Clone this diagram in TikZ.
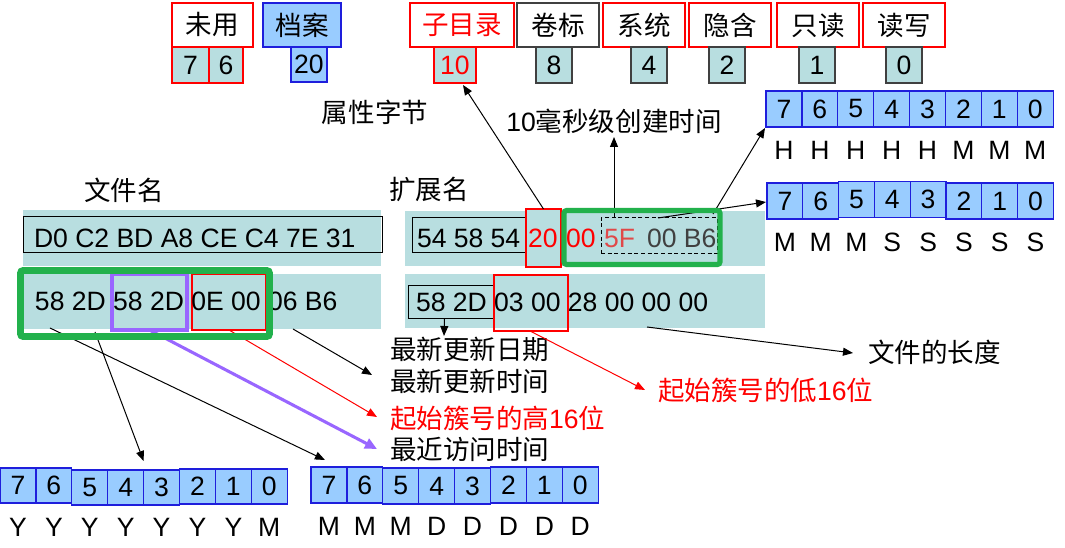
\documentclass[tikz,border=0pt]{standalone}
\usepackage{fontspec}
\setmainfont{Liberation Sans}
\newfontfamily\cjk{Noto Sans CJK SC}
\usetikzlibrary{arrows.meta,calc}
\definecolor{teal1}{RGB}{184,222,224}
\definecolor{blu1}{RGB}{153,204,255}
\definecolor{blu2}{RGB}{30,30,220}
\definecolor{grn}{RGB}{34,177,76}
\definecolor{pur}{RGB}{153,102,255}
\definecolor{red1}{RGB}{255,0,0}
\definecolor{dk}{RGB}{64,64,64}
\definecolor{fivef}{RGB}{224,72,72}
\newcommand\fs{\fontsize{19.9pt}{24pt}\selectfont}
% name, x1, y1, x2, y2, style, text
\newcommand\bx[7]{\node[#6, minimum width={((#4)-(#2))*0.75pt}, minimum height={((#5)-(#3))*0.75pt}] (#1) at ({((#2)+(#4))/2},{((#3)+(#5))/2}) {#7};}
\begin{document}
\begin{tikzpicture}[x=0.75pt,y=-0.75pt,
  every node/.style={font=\fs, inner sep=0pt, outer sep=0pt},
  attr/.style={draw=red1, fill=white, line width=1pt},
  attrk/.style={draw=dk, fill=white, line width=1pt},
  tbox/.style={draw=red1, fill=teal1, line width=1pt},
  tboxk/.style={draw=dk, fill=teal1, line width=1pt},
  bbox/.style={draw=blu2, fill=blu1, line width=1pt},
  cell/.style={draw=blu2, fill=blu1, line width=1pt},
  band/.style={fill=teal1},
  kbox/.style={draw=black, line width=0.75pt},
  rbox/.style={draw=red1, line width=0.9pt},
  gbox/.style={draw=grn, rounded corners=2pt},
  dbox/.style={draw=black, dashed, dash pattern=on 3pt off 2pt, line width=0.75pt},
  arr/.style={-{Triangle[length=7.5pt,width=6pt]}, line width=0.75pt, draw=black},
  rarr/.style={-{Triangle[length=7.5pt,width=6pt]}, line width=0.75pt, draw=red1},
  parr/.style={-{Triangle[length=9pt,width=8pt]}, line width=2.3pt, draw=pur}]
\useasboundingbox (0,0) rectangle (1065,548);
\fill[white] (0,0) rectangle (1065,548);

% ---- attribute byte boxes ----
\bx{un}{172}{3}{253}{47}{attr}{\cjk 未用}
\bx{b7}{172}{47}{209}{83}{tbox}{7}
\bx{b6}{209}{47}{243}{83}{tbox}{6}
\bx{da}{263}{3}{341}{47}{bbox}{\cjk 档案}
\bx{b20}{291}{47}{327}{82}{bbox}{20}
\bx{zml}{410}{3}{514}{47}{attr, text=red1}{\cjk 子目录}
\bx{b10}{434}{47}{476}{83}{tbox, text=red1}{10}
\bx{jb}{517}{3}{599}{47}{attrk}{\cjk 卷标}
\bx{b8}{536}{47}{572}{83}{tboxk}{8}
\bx{xt}{603}{3}{685}{47}{attr}{\cjk 系统}
\bx{b4}{631}{47}{667}{83}{tboxk}{4}
\bx{yh}{689}{3}{771}{47}{attr}{\cjk 隐含}
\bx{b2}{709}{47}{745}{83}{tboxk}{2}
\bx{zd}{777}{3}{859}{47}{attr}{\cjk 只读}
\bx{b1}{799}{47}{835}{83}{tboxk}{1}
\bx{dx}{863}{3}{945}{47}{attr}{\cjk 读写}
\bx{b0}{886}{47}{922}{83}{tboxk}{0}

% ---- labels ----
\node (attrlbl) at (375,112) {\cjk 属性字节};
\node (ms) at (614,121) {10{\cjk 毫秒级创建时间}};
\node (fn) at (124,190) {\cjk 文件名};
\node (ext) at (429,189) {\cjk 扩展名};
\node[anchor=west] (d1) at (390,349) {\cjk 最新更新日期};
\node[anchor=west] (t1) at (390,381) {\cjk 最新更新时间};
\node[anchor=west, text=red1] (hi) at (390,418) {{\cjk 起始簇号的高}16{\cjk 位}};
\node[anchor=west] (acc) at (390,449) {\cjk 最近访问时间};
\node[anchor=west] (len) at (868,352) {\cjk 文件的长度};
\node[anchor=west, text=red1] (lo) at (658,390) {{\cjk 起始簇号的低}16{\cjk 位}};

% ---- directory entry rows ----
\bx{bandL1}{23}{210}{381}{266}{band}{}
\bx{bandL2}{23}{274}{381}{329}{band}{}
\bx{bandR1}{405}{211}{765}{266}{band}{}
\bx{bandR2}{405}{274}{765}{328}{band}{}
\bx{kL1}{23}{217}{382}{253}{kbox}{}
\bx{kR1}{412}{218}{526}{253}{kbox}{}
\bx{rR1}{526}{209}{561}{267}{rbox, fill=teal1}{}
\bx{dash}{601}{218}{717}{254}{dbox}{}
\bx{kR2}{408}{286}{493}{319}{kbox}{}
\bx{rR2}{494}{275}{568}{331}{rbox}{}
\bx{pu}{112}{274}{187}{330}{draw=pur, line width=2.3pt}{}
\bx{rL}{192}{274}{266}{330}{rbox}{}

\node[anchor=base west] (tL1) at (34,248) {D0 C2 BD A8 CE C4 7E 31};
\node[anchor=base west] (tL2) at (35,311) {58 2D 58 2D 0E 00 06 B6};
\node[anchor=base west] (tR1a) at (417,248) {54 58 54};
\node[anchor=base west, text=red1] (tR1b) at (528,248) {20};
\node[anchor=base west, text=red1] (tR1c) at (566,248) {00};
\node[anchor=base west, text=fivef] (tR1d) at (604,248) {5F};
\node[anchor=base west, text=dk] (tR1e) at (647,248) {00 B6};
\node[anchor=base west] (tR2) at (416,312) {58 2D 03 00 28 00 00 00};

% ---- bit arrays ----
\foreach \i/\b in {0/7,1/6,2/5,3/4,4/3,5/2,6/1,7/0}
  {\bx{hh\b}{766+\i*35.9}{91}{766+\i*35.9+35.9}{127}{cell}{\b}}
\foreach \i/\b/\dy in {0/7/0,1/6/0,2/5/-1.5,3/4/-1.5,4/3/-1.5,5/2/0,6/1/0,7/0/0}
  {\bx{mm\b}{767+\i*35.8}{183+\dy}{767+\i*35.8+35.8}{219+\dy}{cell}{\b}}
\foreach \i/\b/\dy in {0/7/0,1/6/0,2/5/2,3/4/2,4/3/2,5/2/1,6/1/1,7/0/1}
  {\bx{bl\b}{\i*35.9}{468+\dy}{\i*35.9+35.9}{503+\dy}{cell}{\b}}
\foreach \i/\b/\dy in {0/7/0,1/6/0,2/5/1,3/4/1,4/3/1,5/2/0,6/1/0,7/0/0}
  {\bx{br\b}{311+\i*35.9}{467+\dy}{311+\i*35.9+35.9}{503+\dy}{cell}{\b}}

\foreach \i/\t in {0/H,1/H,2/H,3/H,4/H,5/M,6/M,7/M}
  {\node (lhh\i) at ({766+\i*35.9+17.95},150) {\t};}
\foreach \i/\t in {0/M,1/M,2/M,3/S,4/S,5/S,6/S,7/S}
  {\node (lmm\i) at ({767+\i*35.8+17.9},242) {\t};}
\foreach \i/\t in {0/Y,1/Y,2/Y,3/Y,4/Y,5/Y,6/Y,7/M}
  {\node (lbl\i) at ({\i*35.9+17.95},527) {\t};}
\foreach \i/\t in {0/M,1/M,2/M,3/D,4/D,5/D,6/D,7/D}
  {\node (lbr\i) at ({311+\i*35.9+17.95},526) {\t};}

% ---- connectors ----
\draw[arr] (rR1.north) -- ($(b10.south)+(8,2)$);
\draw[arr] ($(dash.north west)+(13,0)$) -- ($(ms.center)+(0,16)$);
\draw[arr] ($(dash.north east)+(-4,-4)$) -- ($(hh7.south west)+(-1,1)$);
\draw[arr] ($(dash.north west)+(57,0)$) -- ($(mm7.west)+(-1,1)$);
\draw[arr] ($(kR2.south)+(-6,0)$) -- ($(d1.west)+(54,-13)$);
\draw[rarr] ($(rR2.south)+(-1,0)$) -- ($(lo.west)+(-13,0)$);
\draw[arr] ($(bandR2.south west)+(242,-1)$) -- ($(len.west)+(-15,1)$);

\draw[arr] ($(bandL2.south west)+(27,-1)$) -- ($(br7.north)+(-4,-7)$);
\draw[arr] ($(bandL2.south west)+(72,3)$) -- ($(bl3.north west)+(0,-9)$);
\draw[parr] (pu.south) -- ($(acc.west)+(-13,0)$);
\draw[rarr] (rL.south) -- ($(hi.west)+(-13,-1)$);
\draw[arr] ($(bandL2.south west)+(270,0)$) -- ($(t1.west)+(-18,-6)$);

% ---- green highlight frames ----
\bx{gL}{20.5}{270.5}{269.5}{336.5}{gbox, line width=5.1pt}{}
\bx{gR}{564}{210.5}{720}{264.5}{gbox, line width=3.9pt}{}
\end{tikzpicture}
\end{document}
